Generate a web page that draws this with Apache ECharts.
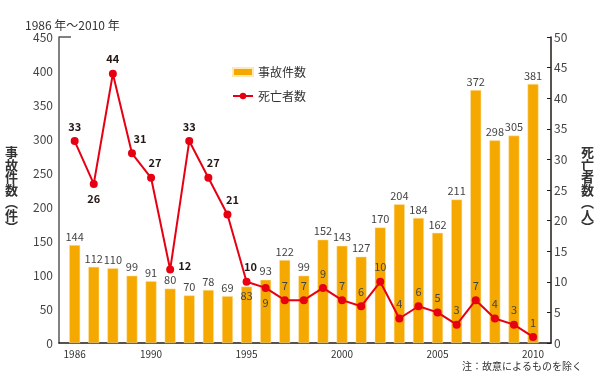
<!DOCTYPE html>
<html><head><meta charset="utf-8">
<script src="https://cdn.jsdelivr.net/npm/echarts@6/dist/echarts.min.js"></script>
<style>html,body{margin:0;padding:0;background:#fff}#c{width:603px;height:374px}</style>
</head><body><div id="c"></div>
<script>
const years = [1986,1987,1988,1989,1990,1991,1992,1993,1994,1995,1996,1997,1998,1999,2000,2001,2002,2003,2004,2005,2006,2007,2008,2009,2010];
const accidents = [144,112,110,99,91,80,70,78,69,83,93,122,99,152,143,127,170,204,184,162,211,372,298,305,381];
const deaths = [33,26,44,31,27,12,33,27,21,10,9,7,7,9,7,6,10,4,6,5,3,7,4,3,1];
const xTickLabels = [1986,1990,1995,2000,2005,2010];
const leftTicks = [0,50,100,150,200,250,300,350,400,450];
const rightTicks = [0,5,10,15,20,25,30,35,40,45,50];

const FONT = '"Noto Sans CJK JP", "Noto Sans", sans-serif';
const ORANGE = '#f5a800';
const RED = '#e60012';

// label placement tweaks for the death-count line
const lineLabelPos = {1:{position:'bottom'},3:{offset:[8,0]},4:{offset:[4,0]},5:{position:'right',offset:[-1,-4]},7:{offset:[5,0]},8:{offset:[5,0]},9:{offset:[4,0]},10:{position:'bottom'}};

const barData = years.map((y,i)=>{
  const d = {value:[y, accidents[i]]};
  if (i === 9) d.label = {position:'insideTop', distance:4};
  return d;
});
const lineData = years.map((y,i)=>{
  const d = {value:[y, deaths[i]]};
  const lab = Object.assign({}, lineLabelPos[i] || {});
  if (i < 10) { lab.fontWeight = 'bold'; lab.color = '#231815'; }
  d.label = lab;
  return d;
});

const chart = echarts.init(document.getElementById('c'), null, {renderer:'canvas'});
chart.setOption({
  animation:false,
  textStyle:{fontFamily:FONT},
  grid:{left:59, right:52, top:37, bottom:31, containLabel:false, outerBoundsMode:'none'},
  title:[
    {text:'1986 年〜2010 年', left:20, top:14, textStyle:{fontSize:12, fontWeight:'normal', color:'#333', fontFamily:FONT}},
    {text:'注：故意によるものを除く', left:462, top:359, padding:0, textStyle:{fontSize:10, lineHeight:14, fontWeight:'normal', color:'#333', fontFamily:FONT}}
  ],
  legend:{
    orient:'vertical', left:227, top:61, itemWidth:20, itemHeight:8, itemGap:12,
    textStyle:{fontSize:12, color:'#333', fontFamily:FONT},
    data:[{name:'事故件数', icon:'rect'}, {name:'死亡者数'}]
  },
  xAxis:{
    type:'value', min:1985.18, max:2010.94,
    splitLine:{show:false},
    axisLine:{show:true, lineStyle:{color:'#231815', width:1.5}},
    axisTick:{show:false},
    axisLabel:{customValues:xTickLabels, formatter:(v)=>String(v), fontSize:10, color:'#333', margin:6, fontFamily:FONT}
  },
  yAxis:[
    {
      type:'value', min:0, max:450, interval:50,
      name:'事\n故\n件\n数\n︵\n件\n︶', nameLocation:'middle', nameGap:41, nameRotate:0,
      nameTextStyle:{fontSize:13, lineHeight:12.5, color:'#333', fontWeight:'bold', fontFamily:FONT},
      splitLine:{show:false},
      axisLine:{show:true, lineStyle:{color:'#595757', width:1.5}},
      axisTick:{show:true, inside:true, length:12, customValues:[450], lineStyle:{color:'#595757', width:1.5}},
      axisLabel:{customValues:leftTicks, fontSize:12, color:'#444', margin:6, fontFamily:FONT}
    },
    {
      type:'value', min:0, max:50, interval:5, position:'right',
      name:'死\n亡\n者\n数\n︵\n人\n︶', nameLocation:'middle', nameGap:30, nameRotate:0,
      nameTextStyle:{fontSize:13, lineHeight:12.5, color:'#333', fontWeight:'bold', fontFamily:FONT},
      splitLine:{show:false},
      axisLine:{show:true, lineStyle:{color:'#231815', width:1.5}},
      axisTick:{show:true, inside:true, length:4, lineStyle:{color:'#231815'}},
      axisLabel:{customValues:rightTicks, fontSize:12, color:'#444', margin:3, fontFamily:FONT}
    }
  ],
  series:[
    {
      name:'事故件数', type:'bar', data:barData, barWidth:11, yAxisIndex:0,
      itemStyle:{color:ORANGE, borderColor:'#fde9b8', borderWidth:0.5},
      label:{show:true, position:'top', distance:3, fontSize:11, color:'#444', fontFamily:FONT},
      z:1
    },
    {
      name:'死亡者数', type:'line', data:lineData, yAxisIndex:1,
      symbol:'circle', symbolSize:8,
      lineStyle:{color:RED, width:2}, itemStyle:{color:RED},
      label:{show:true, position:'top', distance:5, fontSize:11, color:'#444', fontFamily:FONT},
      z:3
    }
  ]
});
</script></body></html>
